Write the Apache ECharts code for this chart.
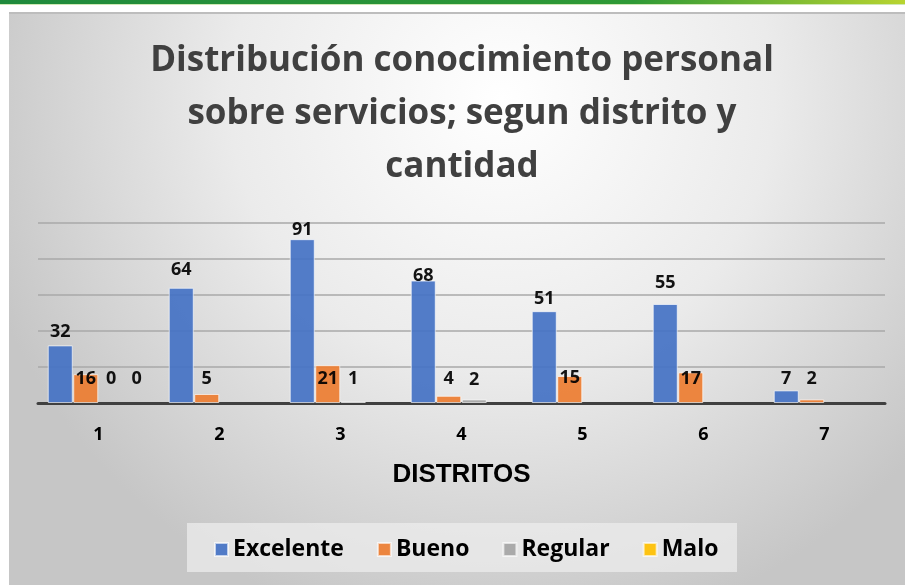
<!DOCTYPE html>
<html>
<head>
<meta charset="utf-8">
<script src="https://cdn.jsdelivr.net/npm/echarts@6/dist/echarts.min.js"></script>
<style>
  html, body { margin: 0; padding: 0; background: #ffffff; }
  #chart { width: 905px; height: 585px; }
</style>
</head>
<body>
<div id="chart"></div>
<script>
// Districts and counts per knowledge level
const distritos = ['1', '2', '3', '4', '5', '6', '7'];
const seriesNames = ['Excelente', 'Bueno', 'Regular', 'Malo'];
const excelente = [32, 64, 91, 68, 51, 55, 7];
const bueno = [16, 5, 21, 4, 15, 17, 2];
const regular = [0, null, 1, 2, null, null, null];
const malo = [0, null, null, null, null, null, null];
const yTicks = [0, 20, 40, 60, 80, 100];

// Vertical nudges for the value labels (pixels)
const labelNudge = [
  [0, -4, 5, 9, 2, -7, 2],
  [19, -1, 28, -3, 16, 20, -7],
  [-10, 0, -8, -6, 0, 0, 0],
  [-10, 0, 0, 0, 0, 0, 0]
];

const colors = ['#4472C4', '#ED7D31', '#A5A5A5', '#FFC000'];
const FONT = '"Open Sans", "Noto Sans", sans-serif';

function buildSeries(name, values, idx) {
  return {
    name: name,
    type: 'bar',
    barWidth: 25,
    barGap: '2%',
    itemStyle: { color: colors[idx], borderColor: 'rgba(255,255,255,0.7)', borderWidth: 1, opacity: 0.92 },
    data: values.map((v, i) => ({
      value: v,
      itemStyle: v === 0 ? { borderWidth: 0 } : undefined,
      label: { offset: [0, labelNudge[idx][i]] }
    })),
    label: {
      show: true,
      position: 'top',
      distance: 5,
      color: '#000000',
      fontFamily: FONT,
      fontWeight: 'bold',
      fontSize: 18,
      formatter: p => (p.value === null || p.value === undefined ? '' : String(p.value))
    }
  };
}

const chart = echarts.init(document.getElementById('chart'), null, { renderer: 'canvas' });
chart.setOption({
  backgroundColor: '#ffffff',
  animation: false,
  graphic: [
    // chart panel with soft radial shading
    {
      type: 'rect', z: -10, silent: true,
      shape: { x: 9, y: 13, width: 896, height: 572 },
      style: {
        fill: {
          type: 'radial', x: 0.55, y: 0.15, r: 0.95,
          colorStops: [
            { offset: 0, color: '#ffffff' },
            { offset: 0.5, color: '#ebebeb' },
            { offset: 1, color: '#c6c6c6' }
          ]
        }
      }
    },
    {
      type: 'rect', z: -9, silent: true,
      shape: { x: 9, y: 12, width: 896, height: 2 },
      style: { fill: '#bdbdbd' }
    },
    // green header strip
    {
      type: 'rect', z: -8, silent: true,
      shape: { x: 0, y: 0, width: 905, height: 4 },
      style: {
        fill: {
          type: 'linear', x: 0, y: 0, x2: 1, y2: 0,
          colorStops: [
            { offset: 0, color: '#1f8a3c' },
            { offset: 0.7, color: '#2f9a36' },
            { offset: 1, color: '#b8d430' }
          ]
        }
      }
    },
    {
      type: 'rect', z: -8, silent: true,
      shape: { x: 0, y: 4, width: 905, height: 1 },
      style: { fill: '#cfe9b4' }
    },
    // legend panel
    {
      type: 'rect', z: -5, silent: true,
      shape: { x: 187, y: 523, width: 550, height: 49 },
      style: { fill: 'rgba(236,236,236,0.75)' }
    }
  ],
  title: {
    text: 'Distribución conocimiento personal\nsobre servicios; segun distrito y\ncantidad',
    left: 462,
    textAlign: 'center',
    top: 35,
    padding: 0,
    textStyle: {
      fontFamily: FONT,
      fontWeight: 'bold',
      fontSize: 35,
      lineHeight: 53,
      color: '#404040'
    }
  },
  legend: {
    data: seriesNames,
    left: 209,
    top: 533,
    padding: 5,
    itemWidth: 13,
    itemHeight: 13,
    itemGap: 33,
    icon: 'rect',
    textStyle: { fontFamily: FONT, fontWeight: 'bold', fontSize: 23, color: '#000000' }
  },
  grid: { left: 38, right: 20, top: 223, bottom: 182, containLabel: false },
  xAxis: {
    type: 'category',
    data: distritos,
    name: 'DISTRITOS',
    nameLocation: 'middle',
    nameGap: 59,
    nameTextStyle: { fontFamily: '"Liberation Sans", Arial, sans-serif', fontWeight: 'bold', fontSize: 26, color: '#000000' },
    axisLine: { lineStyle: { color: '#404040', width: 3 } },
    axisTick: { show: false },
    axisLabel: { margin: 23, fontFamily: FONT, fontWeight: 'bold', fontSize: 18, color: '#000000' }
  },
  yAxis: {
    type: 'value',
    min: yTicks[0],
    max: yTicks[yTicks.length - 1],
    interval: yTicks[1] - yTicks[0],
    axisLabel: { show: false },
    axisLine: { show: false },
    axisTick: { show: false },
    splitLine: { lineStyle: { color: '#a8a8a8', width: 1.5 } }
  },
  series: [
    buildSeries(seriesNames[0], excelente, 0),
    buildSeries(seriesNames[1], bueno, 1),
    buildSeries(seriesNames[2], regular, 2),
    buildSeries(seriesNames[3], malo, 3)
  ]
});
</script>
</body>
</html>
